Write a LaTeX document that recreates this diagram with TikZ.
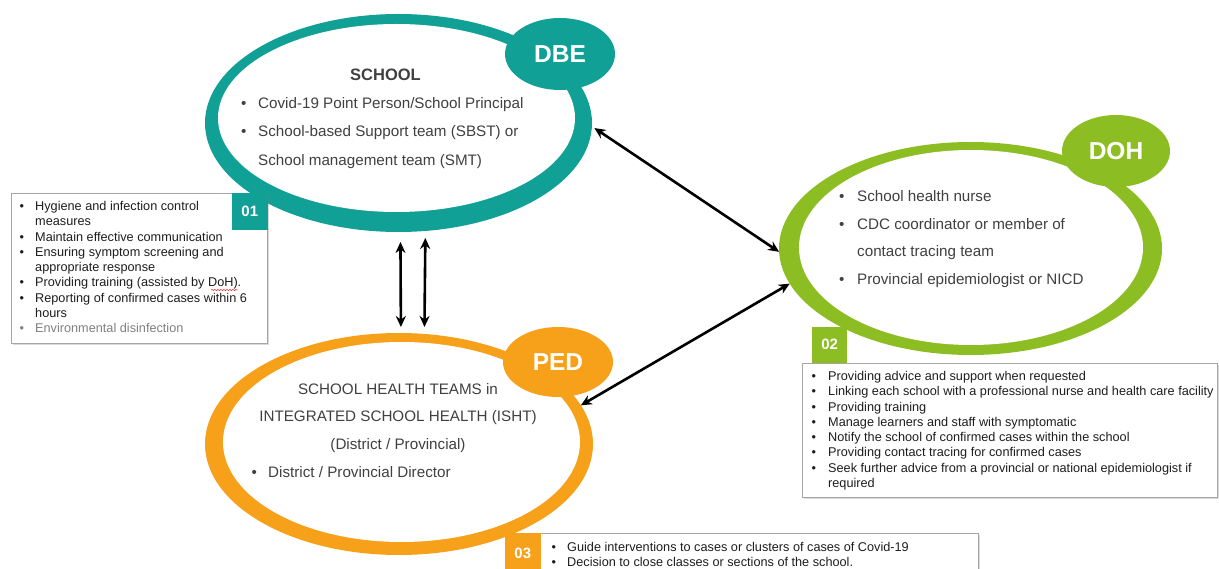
\documentclass[tikz,border=0pt]{standalone}
\usepackage{fontspec}
\setmainfont{Liberation Sans}
\usetikzlibrary{shapes.geometric,arrows.meta,shadows,decorations.pathmorphing}
\definecolor{dbeteal}{RGB}{16,160,150}
\definecolor{dohgreen}{RGB}{140,190,35}
\definecolor{pedorange}{RGB}{247,160,25}
\definecolor{ringtext}{RGB}{64,64,64}
\definecolor{boxtext}{RGB}{30,30,30}
\newcommand{\itm}[2][15.5pt]{\makebox[#1][l]{\textbullet}#2}
\newcommand{\cnt}[2][15.5pt]{\hspace*{#1}#2}

\begin{document}
\begin{tikzpicture}[x=1pt,y=-1pt]
\tikzset{ring/.style={ %
		ellipse,
		inner sep=0pt,
		outer sep=0pt,
		fill=#1
	},
	hole/.style={ellipse, inner sep=0pt, outer sep=0pt, fill=white},
	blob/.style={ellipse, inner sep=0pt, fill=#1, text=white,
		font=\fontsize{24.5}{24.5}\selectfont\bfseries},
	tag/.style={fill=#1, text=white, inner sep=0pt,
		font=\fontsize{15}{15}\selectfont\bfseries},
	listbox/.style={draw=gray!70, line width=1pt, fill=white, anchor=north west,
		drop shadow={shadow xshift=1.5pt, shadow yshift=-1.5pt, opacity=0.3}},
	listtext/.style={align=left, inner sep=0pt, anchor=north west, text=boxtext,
		font=\fontsize{12.7}{15.3}\selectfont},
	inlist/.style={align=left, inner sep=0pt, text=ringtext,
		font=\fontsize{15.2}{28.5}\selectfont},
	inhead/.style={align=center, inner sep=0pt, text=ringtext,
		font=\fontsize{15.2}{27.7}\selectfont},
	link/.style={{Stealth[length=11pt,width=10pt]}-{Stealth[length=11pt,width=10pt]}, line width=2.6pt}
}
\clip (0,0) rectangle (1219,569);

% DBE / school
\node[ring=dbeteal, minimum width=387pt, minimum height=218pt] (school) at (398.5,123) {};
\node[hole, minimum width=357pt, minimum height=188pt] (schoolhole) at (396.5,118) {};
\node[blob=dbeteal, minimum width=110pt, minimum height=72pt] (dbe) at (560,54) {DBE};
\node[inlist, font=\fontsize{16.5}{16.5}\selectfont\bfseries] (schooltitle) at (385.5,75) {SCHOOL};
\node[inlist, anchor=west] (schoollist) at (241,133) {\itm[17pt]{Covid-19 Point Person/School Principal}\\
	\itm[17pt]{School-based Support team (SBST) or}\\
	\cnt[17pt]{School management team (SMT)}};

% DOH
\node[ring=dohgreen, minimum width=383pt, minimum height=213pt] (health) at (970.5,248.5) {};
\node[hole, minimum width=344pt, minimum height=195pt] (healthhole) at (971,247.5) {};
\node[blob=dohgreen, minimum width=108pt, minimum height=72pt] (doh) at (1116,151) {DOH};
\node[inlist, anchor=west, font=\fontsize{15.2}{27.7}\selectfont] (healthlist) at (839,239) {\itm[18pt]{School health nurse}\\
	\itm[18pt]{CDC coordinator or member of}\\
	\cnt[18pt]{contact tracing team}\\
	\itm[18pt]{Provincial epidemiologist or NICD}};

% PED
\node[ring=pedorange, minimum width=388pt, minimum height=222pt] (isht) at (399,444) {};
\node[hole, minimum width=357pt, minimum height=200pt] (ishthole) at (401.5,442) {};
\node[blob=pedorange, minimum width=110pt, minimum height=70pt] (ped) at (558,362) {PED};
\node[inhead] (ishthead) at (398,418) {SCHOOL HEALTH TEAMS in\\INTEGRATED SCHOOL HEALTH (ISHT)\\(District / Provincial)};
\node[inlist, anchor=base west] (ishtlist) at (251.5,477.5) {\itm[16.5pt]{District / Provincial Director}};

% arrows
\draw[link, shorten <=3pt] (school.-1) -- (health.181);
\draw[link] (isht.12) -- (health.191);
\draw[link, shorten <=10pt, shorten >=6pt] (school.-89) -- (isht.89.5);
\draw[link, shorten <=7pt, shorten >=7pt] (school.-76) -- (isht.77);

% list 01
\node[listbox, minimum width=256pt, minimum height=150pt] (list01) at (11,193) {};
\node[listtext] (text01) at ([xshift=8.5pt,yshift=-8pt]list01.north west) {\itm{Hygiene and infection control}\\
	\cnt{measures}\\
	\itm{Maintain effective communication}\\
	\itm{Ensuring symptom screening and}\\
	\cnt{appropriate response}\\
	\itm{Providing training (assisted by DoH).}\\
	\itm{Reporting of confirmed cases within 6}\\
	\cnt{hours}\\
	{\color{gray}\itm{Environmental disinfection}}};
\node[tag=dbeteal, anchor=north east, minimum width=36pt, minimum height=37pt] (tag01) at (list01.north east) {01};
\draw[red, decorate, decoration={snake, amplitude=0.6pt, segment length=3pt}] (211,290) -- (238,290);

% list 02
\node[listbox, minimum width=415pt, minimum height=134pt] (list02) at (802,363) {};
\node[listtext] (text02) at ([xshift=9.5pt,yshift=-8pt]list02.north west) {\itm[16.5pt]{Providing advice and support when requested}\\
	\itm[16.5pt]{Linking each school with a professional nurse and health care facility}\\
	\itm[16.5pt]{Providing training}\\
	\itm[16.5pt]{Manage learners and staff with symptomatic}\\
	\itm[16.5pt]{Notify the school of confirmed cases within the school}\\
	\itm[16.5pt]{Providing contact tracing for confirmed cases}\\
	\itm[16.5pt]{Seek further advice from a provincial or national epidemiologist if}\\
	\cnt[16.5pt]{required}};
\node[tag=dohgreen, anchor=south west, minimum width=35pt, minimum height=36pt] (tag02) at ([xshift=10pt]list02.north west) {02};

% list 03
\node[listbox, minimum width=438pt, minimum height=60pt] (list03) at (540,533) {};
\node[listtext] (text03) at ([xshift=11.5pt,yshift=-9pt]list03.north west) {\itm{Guide interventions to cases or clusters of cases of Covid-19}\\
	\itm{Decision to close classes or sections of the school.}};
\node[tag=pedorange, anchor=north east, minimum width=36pt, minimum height=40pt] (tag03) at ([xshift=1pt]list03.north west) {03};
\end{tikzpicture}
\end{document}
